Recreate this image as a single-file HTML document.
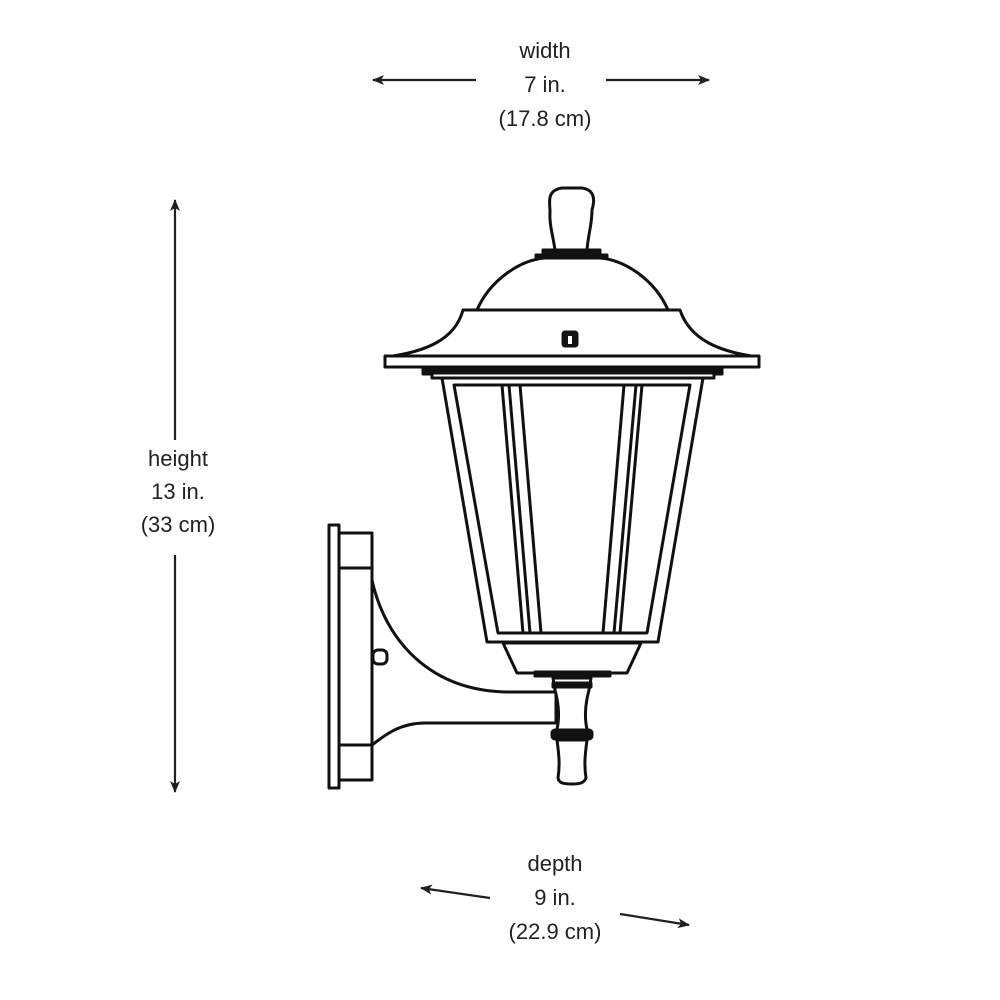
<!DOCTYPE html>
<html><head><style>
html,body{margin:0;padding:0;background:#fff;}
svg{display:block;}
text{font-family:"Liberation Sans",sans-serif;font-size:22px;fill:#231f20;text-anchor:middle;}
</style></head><body>
<svg width="1000" height="1000" viewBox="0 0 1000 1000" xmlns="http://www.w3.org/2000/svg">
<defs>
<marker id="a" markerWidth="12" markerHeight="10" refX="11" refY="5" orient="auto" markerUnits="userSpaceOnUse">
<path d="M0,0 L12,5 L0,10 L3,5 Z" fill="#231f20"/></marker>
</defs>
<text x="545" y="58">width</text>
<text x="545" y="92">7 in.</text>
<text x="545" y="126">(17.8 cm)</text>
<text x="178" y="466">height</text>
<text x="178" y="499">13 in.</text>
<text x="178" y="532">(33 cm)</text>
<text x="555" y="871">depth</text>
<text x="555" y="905">9 in.</text>
<text x="555" y="939">(22.9 cm)</text>
<g stroke="#231f20" stroke-width="2.2" fill="none">
<line x1="476" y1="80" x2="373" y2="80" marker-end="url(#a)"/>
<line x1="606" y1="80" x2="709" y2="80" marker-end="url(#a)"/>
<line x1="175" y1="440" x2="175" y2="200" marker-end="url(#a)"/>
<line x1="175" y1="555" x2="175" y2="792" marker-end="url(#a)"/>
<line x1="490" y1="898" x2="421" y2="888" marker-end="url(#a)"/>
<line x1="620" y1="914" x2="689" y2="925" marker-end="url(#a)"/>
</g>
<g stroke="#111" stroke-width="3" fill="#fff" stroke-linejoin="round">
<!-- arm -->
<path d="M372,580 C385,640 430,692 510,692 L556,692 L556,723 L425,723 C400,723 385,735 372,745" />
<!-- wall plate -->
<rect x="329" y="525" width="10" height="263"/>
<rect x="339" y="533" width="33" height="247"/>
<line x1="339" y1="568" x2="372" y2="568"/>
<line x1="339" y1="745" x2="372" y2="745"/>
<rect x="373" y="650" width="14" height="14" rx="5"/>
<!-- finial top -->
<path d="M555,250 C553,235 549,225 550,210 C549,200 548,190 562,188 L582,188 C595,190 595,200 592,210 C592,225 588,235 587,250 Z"/>
<rect x="543" y="250" width="57" height="5" fill="#111"/>
<rect x="536" y="255" width="71" height="4" fill="#111"/>
<!-- dome -->
<path d="M477,310 C490,280 520,260 545,258 L600,258 C625,260 655,280 668,310 Z"/>
<!-- hood -->
<path d="M463,310 L680,310 C690,340 720,352 758,357 L386,357 C425,352 455,340 463,310 Z"/>
<rect x="563" y="332" width="14" height="14" rx="2" fill="#111"/>
<rect x="568" y="336" width="4" height="8" fill="#fff" stroke="none"/>
<rect x="385" y="356" width="374" height="11"/>
<rect x="423" y="367" width="299" height="7" fill="#111"/>
<rect x="432" y="373" width="282" height="5"/>
<!-- glass -->
<path d="M442,378 L703,378 L658,642 L487,642 Z"/>
<path d="M454,385 L690,385 L647,633 L498,633 Z"/>
<g fill="none">
<line x1="502" y1="385" x2="523" y2="633"/>
<line x1="509" y1="385" x2="530" y2="633"/>
<line x1="520" y1="385" x2="541" y2="633"/>
<line x1="624" y1="385" x2="603" y2="633"/>
<line x1="636" y1="385" x2="614" y2="633"/>
<line x1="642" y1="385" x2="620" y2="633"/>
</g>
<!-- base -->
<path d="M503,643 L641,643 L627,673 L517,673 Z"/>
<rect x="535" y="672" width="75" height="4" fill="#111"/>
<!-- bottom finial -->
<path d="M553,678 L591,678 L589,690 C585,705 584,720 588,733 L556,733 C560,720 559,705 555,690 Z"/>
<rect x="553" y="683" width="38" height="4" fill="#111"/>
<rect x="552" y="730" width="40" height="9" rx="3" fill="#111"/>
<path d="M557,740 L587,740 C585,755 584,765 586,778 C584,783 580,784 572,784 C563,784 559,783 558,778 C560,765 559,755 557,740 Z"/>
</g>
</svg>
</body></html>
